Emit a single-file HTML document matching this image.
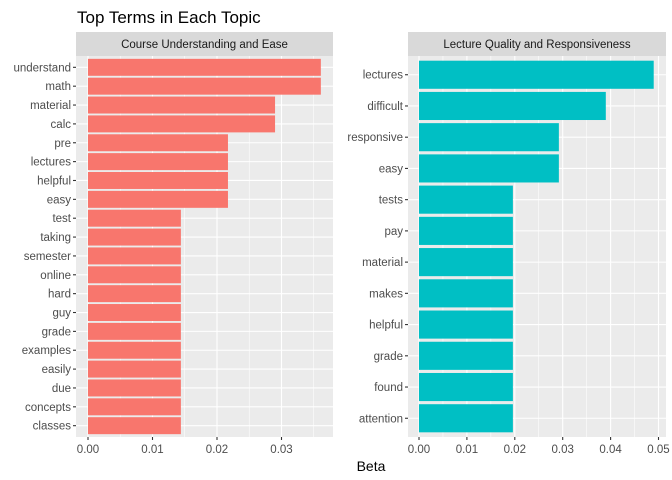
<!DOCTYPE html>
<html><head><meta charset="utf-8"><style>
body{margin:0;background:#fff;}
svg{display:block;font-family:"Liberation Sans",sans-serif;}
</style></head><body>
<svg id="c" width="672" height="480"></svg>
<script>
const leftTerms=["understand","math","material","calc","pre","lectures","helpful","easy","test","taking","semester","online","hard","guy","grade","examples","easily","due","concepts","classes"];
const leftValues=[0.0361,0.0361,0.029,0.029,0.0217,0.0217,0.0217,0.0217,0.0144,0.0144,0.0144,0.0144,0.0144,0.0144,0.0144,0.0144,0.0144,0.0144,0.0144,0.0144];
const leftTicks=[0,0.01,0.02,0.03];
const leftTickLabels=["0.00","0.01","0.02","0.03"];
const rightTerms=["lectures","difficult","responsive","easy","tests","pay","material","makes","helpful","grade","found","attention"];
const rightValues=[0.049,0.039,0.0292,0.0292,0.0196,0.0196,0.0196,0.0196,0.0196,0.0196,0.0196,0.0196];
const rightTicks=[0,0.01,0.02,0.03,0.04,0.05];
const rightTickLabels=["0.00","0.01","0.02","0.03","0.04","0.05"];
const NS="http://www.w3.org/2000/svg";
const svg=document.getElementById('c');
function mk(tag,attrs,parent){const e=document.createElementNS(NS,tag);for(const k in attrs)e.setAttribute(k,attrs[k]);(parent||svg).appendChild(e);return e;}
const t=mk('text',{x:77,y:23,'font-size':17,fill:'#000'});t.textContent='Top Terms in Each Topic';


const xl=mk('text',{x:371,y:471,'font-size':14,fill:'#000','text-anchor':'middle'});xl.textContent='Beta';


function panel(name,title,terms,vals,ticks,labels,x0,x1,zeroX,pxPer,color){
  const top=56,bot=437;
  const g=mk('g',{});
  
  
  const strip=mk('rect',{x:x0,y:32,width:x1-x0,height:24,fill:'#d9d9d9'},g);
  
  
  const st=mk('text',{x:(x0+x1)/2,y:48,'font-size':11.5,fill:'#1a1a1a','text-anchor':'middle'},g);st.textContent=title;
  
  
  mk('rect',{x:x0,y:top,width:x1-x0,height:bot-top,fill:'#ebebeb'},g);
  const xs=v=>zeroX+v*pxPer*100;
  const n=terms.length, unit=(bot-top)/(n+0.2);
  const ys=i=>top+unit*(0.6+i);
  for(let i=-1;i<ticks.length;i++){
    const m=(i<0?0:ticks[i])+(i<0?-0.005:0.005); const xm=xs(m);
    if(xm<x1 && xm>x0) mk('line',{x1:xm,x2:xm,y1:top,y2:bot,stroke:'#fff','stroke-width':0.55},g);
  }
  ticks.forEach((v,i)=>{
    const x=xs(v);
    mk('line',{x1:x,x2:x,y1:top,y2:bot,stroke:'#fff','stroke-width':1.1},g);
    mk('line',{x1:x,x2:x,y1:bot,y2:bot+3,stroke:'#333','stroke-width':1.1},g);
    const tl=mk('text',{x:x,y:bot+16,'font-size':11.5,fill:'#4d4d4d','text-anchor':'middle'},g);tl.textContent=labels[i];
    
    
  });
  terms.forEach((term,i)=>{
    const y=ys(i);
    mk('line',{x1:x0,x2:x1,y1:y,y2:y,stroke:'#fff','stroke-width':1.1},g);
    mk('line',{x1:x0-3,x2:x0,y1:y,y2:y,stroke:'#333','stroke-width':1.1},g);
    const b=mk('rect',{x:xs(0),y:y-unit*0.45,width:xs(vals[i])-xs(0),height:unit*0.9,fill:color},g);
    
    
    const tl=mk('text',{x:x0-5,y:y+4,'font-size':11.5,fill:'#4d4d4d','text-anchor':'end'},g);tl.textContent=term;
    
    
  });
}
panel('left-panel','Course Understanding and Ease',leftTerms,leftValues,leftTicks,leftTickLabels,76,333,88,64.5,'#f8766d');
panel('right-panel','Lecture Quality and Responsiveness',rightTerms,rightValues,rightTicks,rightTickLabels,408,666,419,47.9,'#00bfc4');
</script>
</body></html>
